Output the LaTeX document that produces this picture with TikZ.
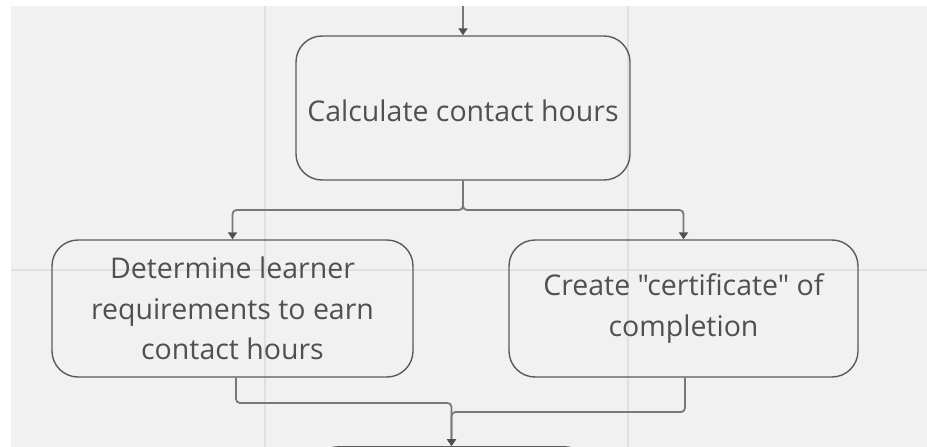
\documentclass[tikz,border=0pt]{standalone}
\usepackage{fontspec}
\setmainfont{Open Sans}[Ligatures=TeXOff]
\usetikzlibrary{arrows.meta}
\definecolor{bg}{HTML}{F1F1F1}
\definecolor{gridc}{HTML}{E0E0E0}
\definecolor{boxc}{HTML}{5A5A5A}
\definecolor{linec}{HTML}{787878}
\definecolor{arrc}{HTML}{505050}
\definecolor{txtc}{HTML}{505050}
\tikzset{
  stepbox/.style={draw=boxc, line width=1.4pt, rounded corners=26pt, align=center,
    text=txtc, font=\fontsize{28.5}{40.5}\selectfont, inner sep=0pt,
    execute at begin node=\rule{0pt}{28pt}},
  conn/.style={draw=linec, line width=1.8pt, rounded corners=4pt},
  arr/.style={conn, -{Triangle[width=9pt,length=7pt,color=arrc]}},
}
\begin{document}
\begin{tikzpicture}[x=1pt,y=-1pt]
\useasboundingbox (0,0) rectangle (927,447);
\fill[white] (0,0) rectangle (927,447);
\fill[bg] (11,6) rectangle (927,447);
\draw[gridc, line width=1.2pt] (265,6) -- (265,447);
\draw[gridc, line width=1.2pt] (628,6) -- (628,447);
\draw[gridc, line width=1.2pt] (11,270) -- (927,270);
\begin{scope}
\clip (0,0) rectangle (927,447);
\node[stepbox, minimum width=334pt, minimum height=144pt] (calc) at (463,108) {Calculate contact hours};
\node[stepbox, minimum width=361pt, minimum height=137pt] (det) at (232.5,308.5) {Determine learner\\requirements to earn\\contact hours};
\node[stepbox, minimum width=349pt, minimum height=137pt] (cert) at (683.5,308.5) {Create "certificate" of\\completion};
\node[stepbox, minimum width=277pt, minimum height=120pt, anchor=north] (next) at (451.5,446) {};
\coordinate (topin) at (463,6);
\coordinate (split) at (463,210);
\coordinate (joinl) at (236,403);
\coordinate (joinr) at (685,412);
\draw[arr] (topin) -- (calc.north);
\draw[arr] (calc.south) -- (split) -| (det.north);
\draw[arr] (calc.south) -- (split) -| (cert.north);
\draw[arr] (joinl |- det.south) -- (joinl) -| (next.north);
\draw[arr] (joinr |- cert.south) -- (joinr) -| (next.north);
\end{scope}
\end{tikzpicture}
\end{document}
